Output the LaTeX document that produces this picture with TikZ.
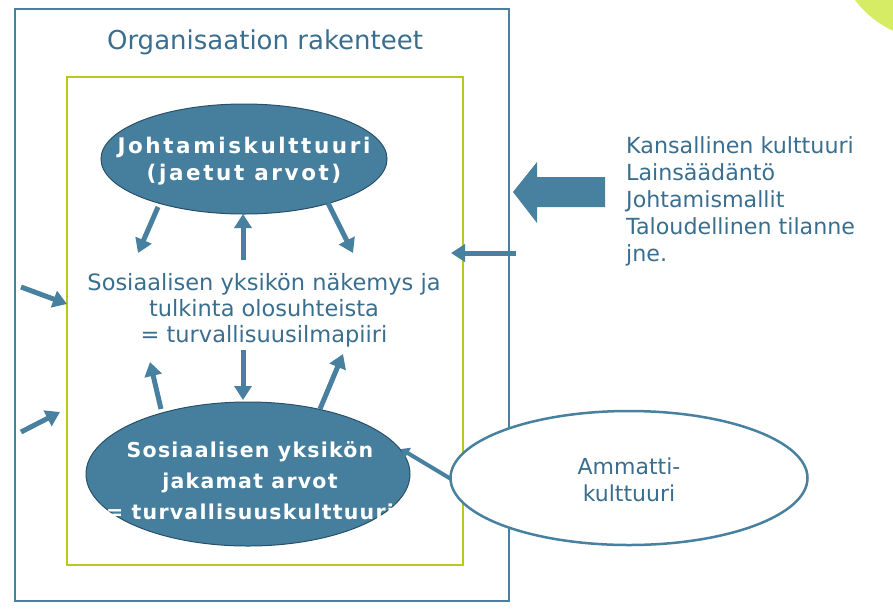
\documentclass[tikz,border=0pt]{standalone}
\usepackage{fontspec}
\setmainfont{DejaVu Sans}
\newfontfamily\boldfam[LetterSpace=12]{DejaVu Sans Bold}
\newfontfamily\comicfam[LetterSpace=6]{DejaVu Sans Bold}
\usetikzlibrary{shapes.geometric,arrows.meta}
\definecolor{bluetxt}{RGB}{58,110,142}
\definecolor{blueline}{RGB}{72,128,160}
\definecolor{ellfill}{RGB}{70,127,158}
\definecolor{ellborder}{RGB}{40,80,105}
\definecolor{lime}{RGB}{184,200,30}
\definecolor{limecirc}{RGB}{214,236,100}
\tikzset{
  x=1pt, y=-1pt,
  arr/.style={draw=blueline, line width=5pt, -{Triangle[width=17pt,length=14pt]}},
  thinarr/.style={draw=blueline, line width=4pt, -{Triangle[width=12pt,length=8pt]}},
  darkell/.style={ellipse, fill=ellfill, draw=ellborder, line width=1pt, inner sep=0pt},
  whitetext/.style={text=white, align=center, inner sep=0pt},
  bluetext/.style={text=bluetxt, align=center, inner sep=0pt},
}
\begin{document}
\begin{tikzpicture}
\useasboundingbox (0,0) rectangle (893,611);
\fill[limecirc] (935,-60) circle (100);
% boxes
\draw[blueline, line width=2.5pt] (15,9) rectangle (509,601);
\draw[lime, line width=2.5pt] (67,77) rectangle (463,565);
\node[bluetext, font=\fontsize{26}{30}\selectfont] (title) at (265,42) {Organisaation rakenteet};
% top ellipse
\node[darkell, minimum width=286pt, minimum height=110pt] (top) at (244,159) {};
\node[whitetext, font=\boldfam\fontsize{21.5}{27}\selectfont] (toptxt) at (244,161) {Johtamiskulttuuri\\(jaetut arvot)};
% middle text
\node[bluetext, font=\fontsize{22.5}{26}\selectfont] (mid) at (264,310) {Sosiaalisen yksikön näkemys ja\\tulkinta olosuhteista\\= turvallisuusilmapiiri};
% bottom ellipse
\node[darkell, minimum width=324pt, minimum height=144pt] (bot) at (248,474) {};
\node[whitetext, font=\comicfam\fontsize{20.5}{31}\selectfont] (bottxt) at (250,481) {Sosiaalisen yksikön\\jakamat arvot\\= turvallisuuskulttuuri};
% ammatti
\node[ellipse, draw=blueline, line width=2.5pt, fill=white, minimum width=357pt, minimum height=134pt, inner sep=0pt] (amm) at (629,478) {};
\node[bluetext, font=\fontsize{22}{27}\selectfont] (ammtxt) at (629,480) {Ammatti-\\kulttuuri};
% right text
\node[bluetext, align=left, anchor=west, font=\fontsize{22.2}{27}\selectfont] (ext) at (626,201) {Kansallinen kulttuuri\\Lainsäädäntö\\Johtamismallit\\Taloudellinen tilanne\\jne.};
% coordinates
\coordinate (t1s) at (158,207); \coordinate (t1e) at (138,253);
\coordinate (t2s) at (243,260); \coordinate (t2e) at (243,214);
\coordinate (t3s) at (328,203); \coordinate (t3e) at (353,253);
\coordinate (b1s) at (161,409); \coordinate (b1e) at (150,362);
\coordinate (b2s) at (243,350); \coordinate (b2e) at (243,400);
\coordinate (b3s) at (320,409); \coordinate (b3e) at (343,354);
\coordinate (ae) at (401,449); \coordinate (as) at (451,479);
\coordinate (rs) at (516,253); \coordinate (re) at (451,253);
\coordinate (l1s) at (21,287); \coordinate (l1e) at (67,304);
\coordinate (l2s) at (21,432); \coordinate (l2e) at (60,412);
\draw[arr] (t1s) -- (t1e);
\draw[arr] (t2s) -- (t2e);
\draw[arr] (t3s) -- (t3e);
\draw[arr] (b1s) -- (b1e);
\draw[arr] (b2s) -- (b2e);
\draw[arr] (b3s) -- (b3e);
\draw[thinarr] (as) -- (ae);
\draw[arr] (rs) -- (re);
\draw[arr] (l1s) -- (l1e);
\draw[arr] (l2s) -- (l2e);
% big block arrow
\fill[blueline] (513,192) -- (537,162) -- (537,177) -- (605,177) -- (605,207) -- (537,207) -- (537,223) -- cycle;
\end{tikzpicture}
\end{document}
